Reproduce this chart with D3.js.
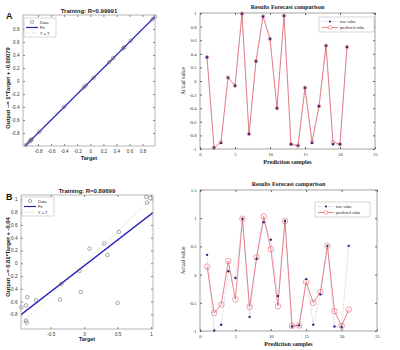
<!DOCTYPE html>
<html>
<head>
<meta charset="utf-8">
<script src="https://cdnjs.cloudflare.com/ajax/libs/d3/7.8.5/d3.min.js"></script>
<style>
  body { margin: 0; background: #fff; }
  svg { display: block; }
</style>
</head>
<body>
<div id="wrapper"></div>
<script>
// --- data ---
const samples = d3.range(1, 22)
const trueA = [0.35, -0.98, -0.91, 0.05, -0.07, 0.99, -0.78, 0.29, 0.95, 0.62, -0.40,
               0.96, -0.93, -0.95, -0.10, -0.91, -0.37, 0.52, -0.93, -0.93, 0.50]
const predA = [0.35, -0.98, -0.90, 0.05, -0.07, 0.99, -0.78, 0.29, 0.95, 0.62, -0.40,
               0.96, -0.93, -0.95, -0.10, -0.90, -0.37, 0.52, -0.90, -0.93, 0.50]
const trueB = [0.35, -0.99, -0.89, 0.06, -0.06, 0.99, -0.75, 0.28, 0.93, 0.62, -0.38,
               0.95, -0.92, -0.90, -0.08, -0.89, -0.35, 0.51, -0.92, -0.93, 0.51]
const predB = [0.14, -0.68, -0.53, 0.24, -0.44, 0.99, -0.57, 0.31, 1.03, 0.45, -0.56,
               0.95, -0.91, -0.90, -0.13, -0.50, -0.31, 0.51, -0.65, -0.91, -0.62]
// regression A (training), targets and network outputs
const targetA = [-0.98, -0.93, -0.91, -0.90, -0.78, -0.40, -0.10, -0.07, 0.05, 0.29, 0.35, 0.50, 0.52, 0.62, 0.95, 0.99]
const outputA = [-0.98, -0.93, -0.91, -0.90, -0.78, -0.40, -0.10, -0.07, 0.05, 0.29, 0.35, 0.50, 0.52, 0.62, 0.95, 0.99]
// regression B (training)
const targetB = [-0.94, -0.87, -0.85, -0.87, -0.86, -0.72, -0.36, -0.34, -0.07, -0.05, 0.08, 0.30, 0.35, 0.52, 0.50, 0.93, 0.99, 0.94]
const outputB = [-0.69, -0.66, -0.53, -0.90, -0.93, -0.58, -0.57, -0.32, -0.12, -0.45, 0.23, 0.31, 0.13, 0.49, -0.62, 1.04, 1.02, 0.95]
const fitA = {slope: 1, intercept: -0.00079}
const fitB = {slope: 0.81, intercept: -0.04}
const regTicks = [-0.8, -0.6, -0.4, -0.2, 0, 0.2, 0.4, 0.6, 0.8]
const regTicksBy = [-0.8, -0.6, -0.4, -0.2, 0, 0.2, 0.4, 0.6, 0.8, 1]
const regTicksBx = [-0.5, 0, 0.5, 1]
const cmpXTicks = [0, 5, 10, 15, 20, 25]
const cmpTicksAy = [-1, -0.8, -0.6, -0.4, -0.2, 0, 0.2, 0.4, 0.6, 0.8, 1]
const cmpTicksBy = [-1, -0.5, 0, 0.5, 1, 1.5]

const fmt = d => String(+d.toFixed(2))
const sans = "Liberation Sans, Arial, sans-serif"
const serif = "Liberation Serif, Times New Roman, serif"

const svg = d3.select("#wrapper").append("svg")
  .attr("width", 400).attr("height", 350)

drawRegression({
  box: {x0: 23, x1: 155, y0: 15, y1: 146}, xDomain: [-1.03, 0.99], yDomain: [-1.0, 1.015],
  xTicks: regTicks, yTicks: regTicks, targets: targetA, outputs: outputA, fit: fitA,
  title: "Training: R=0.99991", ylabel: "Output ~= 1*Target + -0.00079", ylabelY: 88,
  letter: "A", letterPos: [6, 19], legend: {x: 24, y: 18}, xlabelY: 160
})
drawRegression({
  box: {x0: 21, x1: 153, y0: 195, y1: 329}, xDomain: [-0.945, 1.03], yDomain: [-1.03, 1.07],
  xTicks: regTicksBx, yTicks: regTicksBy, targets: targetB, outputs: outputB, fit: fitB,
  title: "Training: R=0.89699", ylabel: "Output ~= 0.81*Target + -0.04", ylabelY: 257,
  letter: "B", letterPos: [6, 200], legend: {x: 22, y: 197}, xlabelY: 341
})
drawComparison({
  box: {x0: 200, x1: 375, y0: 13, y1: 149}, yDomain: [-1, 1], yTicks: cmpTicksAy,
  trueVals: trueA, predVals: predA, circleR: 1.8, legend: {x: 319, y: 17}
})
drawComparison({
  box: {x0: 200, x1: 377, y0: 190, y1: 331}, yDomain: [-1, 1.5], yTicks: cmpTicksBy,
  trueVals: trueB, predVals: predB, circleR: 2.8, legend: {x: 315, y: 202}
})

function frame(g, xScale, yScale, box, xTicks, yTicks, font, color) {
  const styleAxis = s => s
    .call(s => s.select(".domain").remove())
    .call(s => s.selectAll("line").attr("stroke", color))
    .call(s => s.selectAll("text").attr("font-family", font).attr("font-size", 4.6).attr("fill", "#333"))
  const axes = [
    [d3.axisBottom(xScale).tickValues(xTicks).tickFormat(fmt), `translate(0,${box.y1})`],
    [d3.axisTop(xScale).tickValues(xTicks).tickFormat(""), `translate(0,${box.y0})`],
    [d3.axisLeft(yScale).tickValues(yTicks).tickFormat(fmt), `translate(${box.x0},0)`],
    [d3.axisRight(yScale).tickValues(yTicks).tickFormat(""), `translate(${box.x1},0)`],
  ]
  axes.forEach(([ax, tr]) => {
    g.append("g").attr("transform", tr)
      .call(ax.tickSizeInner(-2).tickSizeOuter(0).tickPadding(3.5))
      .call(styleAxis)
  })
  g.append("rect")
    .attr("x", box.x0).attr("y", box.y0)
    .attr("width", box.x1 - box.x0).attr("height", box.y1 - box.y0)
    .attr("fill", "none").attr("stroke", color).attr("stroke-width", 0.6)
}

function drawRegression(cfg) {
  const {box} = cfg
  const g = svg.append("g")
  const xScale = d3.scaleLinear().domain(cfg.xDomain).range([box.x0, box.x1])
  const yScale = d3.scaleLinear().domain(cfg.yDomain).range([box.y1, box.y0])
  const clipId = "clip" + cfg.letter
  g.append("clipPath").attr("id", clipId).append("rect")
    .attr("x", box.x0).attr("y", box.y0)
    .attr("width", box.x1 - box.x0).attr("height", box.y1 - box.y0)
  const plot = g.append("g").attr("clip-path", `url(#${clipId})`)
  const xs = cfg.xDomain
  // Y = T
  plot.append("line")
    .attr("x1", xScale(xs[0])).attr("y1", yScale(xs[0]))
    .attr("x2", xScale(xs[1])).attr("y2", yScale(xs[1]))
    .attr("stroke", "#c9c9a6").attr("stroke-width", 0.7).attr("stroke-dasharray", "1,1")
  // fit
  plot.append("line")
    .attr("x1", xScale(xs[0])).attr("y1", yScale(cfg.fit.slope * xs[0] + cfg.fit.intercept))
    .attr("x2", xScale(xs[1])).attr("y2", yScale(cfg.fit.slope * xs[1] + cfg.fit.intercept))
    .attr("stroke", "#2424b8").attr("stroke-width", 1.3)
  g.selectAll(".pt").data(cfg.targets).join("circle")
    .attr("cx", d => xScale(d))
    .attr("cy", (d, i) => yScale(cfg.outputs[i]))
    .attr("r", 1.8).attr("fill", "none").attr("stroke", "#555").attr("stroke-width", 0.5)

  frame(g, xScale, yScale, box, cfg.xTicks, cfg.yTicks, sans, "#888")

  g.append("text").attr("x", (box.x0 + box.x1) / 2).attr("y", box.y0 - 2)
    .attr("text-anchor", "middle").attr("font-family", sans).attr("font-size", 6)
    .attr("font-weight", "bold").attr("fill", "#222").text(cfg.title)
  g.append("text").attr("x", (box.x0 + box.x1) / 2).attr("y", cfg.xlabelY)
    .attr("text-anchor", "middle").attr("font-family", sans).attr("font-size", 5.5)
    .attr("font-weight", "bold").attr("fill", "#222").text("Target")
  g.append("text")
    .attr("transform", `translate(10,${cfg.ylabelY}) rotate(-90)`)
    .attr("text-anchor", "middle").attr("font-family", sans).attr("font-size", 5.8)
    .attr("font-weight", "bold").attr("fill", "#222").text(cfg.ylabel)
  g.append("text").attr("x", cfg.letterPos[0]).attr("y", cfg.letterPos[1])
    .attr("font-family", sans).attr("font-size", 9).attr("font-weight", "bold")
    .attr("fill", "#111").text(cfg.letter)

  // legend
  const lg = g.append("g").attr("transform", `translate(${cfg.legend.x},${cfg.legend.y})`)
  lg.append("rect").attr("width", 32).attr("height", 19)
    .attr("fill", "#fff").attr("stroke", "#999").attr("stroke-width", 0.4)
  const items = ["Data", "Fit", "Y = T"]
  items.forEach((t, i) => {
    const y = 4 + i * 5.5
    if (i === 0) lg.append("circle").attr("cx", 8).attr("cy", y).attr("r", 1.6)
      .attr("fill", "none").attr("stroke", "#555").attr("stroke-width", 0.5)
    if (i === 1) lg.append("line").attr("x1", 2).attr("x2", 14).attr("y1", y).attr("y2", y)
      .attr("stroke", "#2424b8").attr("stroke-width", 1.2)
    if (i === 2) lg.append("line").attr("x1", 2).attr("x2", 14).attr("y1", y).attr("y2", y)
      .attr("stroke", "#c9c9a6").attr("stroke-width", 0.7).attr("stroke-dasharray", "1,1")
    lg.append("text").attr("x", 16).attr("y", y + 1.5).attr("font-family", sans)
      .attr("font-size", 4).attr("fill", "#222").text(t)
  })
}

function drawComparison(cfg) {
  const {box} = cfg
  const g = svg.append("g")
  const xScale = d3.scaleLinear().domain([0, 25]).range([box.x0, box.x1])
  const yScale = d3.scaleLinear().domain(cfg.yDomain).range([box.y1, box.y0])
  const line = d3.line().x((d, i) => xScale(samples[i])).y(d => yScale(d))

  g.append("path").attr("d", line(cfg.trueVals)).attr("fill", "none")
    .attr("stroke", "#b9b9c8").attr("stroke-width", 0.6).attr("stroke-dasharray", "1.5,1")
  g.append("path").attr("d", line(cfg.predVals)).attr("fill", "none")
    .attr("stroke", "#e26470").attr("stroke-width", 0.8)
  g.selectAll(".pred").data(cfg.predVals).join("circle")
    .attr("cx", (d, i) => xScale(samples[i])).attr("cy", d => yScale(d))
    .attr("r", cfg.circleR).attr("fill", "none").attr("stroke", "#e26470").attr("stroke-width", 0.6)
  g.selectAll(".true").data(cfg.trueVals).join("circle")
    .attr("cx", (d, i) => xScale(samples[i])).attr("cy", d => yScale(d))
    .attr("r", 1.2).attr("fill", "#2a2a7c")

  frame(g, xScale, yScale, box, cmpXTicks, cfg.yTicks, serif, "#666")

  g.append("text").attr("x", (box.x0 + box.x1) / 2).attr("y", box.y0 - 4.5)
    .attr("text-anchor", "middle").attr("font-family", serif).attr("font-size", 6)
    .attr("font-weight", "bold").attr("fill", "#222").text("Results Forecast comparison")
  g.append("text").attr("x", (box.x0 + box.x1) / 2).attr("y", box.y1 + 15)
    .attr("text-anchor", "middle").attr("font-family", serif).attr("font-size", 6)
    .attr("font-weight", "bold").attr("fill", "#222").text("Prediction samples")
  g.append("text")
    .attr("transform", `translate(${box.x0 - 15},${(box.y0 + box.y1) / 2}) rotate(-90)`)
    .attr("text-anchor", "middle").attr("font-family", serif).attr("font-size", 5.5)
    .attr("fill", "#222").text("Actual value")

  const lg = g.append("g").attr("transform", `translate(${cfg.legend.x},${cfg.legend.y})`)
  lg.append("rect").attr("width", 55).attr("height", 15)
    .attr("fill", "#fff").attr("stroke", "#999").attr("stroke-width", 0.4)
  lg.append("line").attr("x1", 3).attr("x2", 19).attr("y1", 4.5).attr("y2", 4.5)
    .attr("stroke", "#b9b9c8").attr("stroke-width", 0.6).attr("stroke-dasharray", "1.5,1")
  lg.append("circle").attr("cx", 11).attr("cy", 4.5).attr("r", 1.1).attr("fill", "#2a2a7c")
  lg.append("line").attr("x1", 3).attr("x2", 19).attr("y1", 10.5).attr("y2", 10.5)
    .attr("stroke", "#e26470").attr("stroke-width", 0.8)
  lg.append("circle").attr("cx", 11).attr("cy", 10.5).attr("r", 1.8)
    .attr("fill", "#fff").attr("stroke", "#e26470").attr("stroke-width", 0.6)
  lg.append("text").attr("x", 21).attr("y", 6).attr("font-family", serif)
    .attr("font-size", 4).attr("fill", "#222").text("true value")
  lg.append("text").attr("x", 21).attr("y", 12).attr("font-family", serif)
    .attr("font-size", 4).attr("fill", "#222").text("predicted value")
}
</script>
</body>
</html>
